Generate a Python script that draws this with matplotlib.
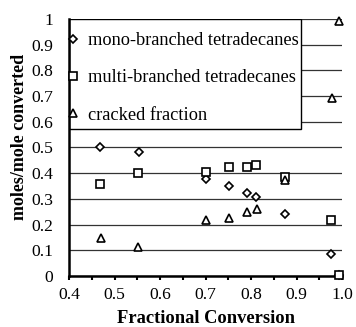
import matplotlib.pyplot as plt
from matplotlib.patches import Rectangle
from matplotlib.ticker import MultipleLocator, FixedLocator, FuncFormatter

plt.rcParams['font.family'] = ['Liberation Serif', 'DejaVu Serif']

# Fractional conversion for each run
conv_mono = [0.468, 0.553, 0.701, 0.751, 0.792, 0.811, 0.875, 0.976, 0.994]
mono = [0.502, 0.483, 0.377, 0.350, 0.322, 0.306, 0.240, 0.087, 0.004]

conv_multi = [0.468, 0.552, 0.701, 0.751, 0.790, 0.811, 0.875, 0.976, 0.994]
multi = [0.358, 0.402, 0.406, 0.423, 0.425, 0.432, 0.384, 0.218, 0.004]

conv_crack = [0.470, 0.552, 0.701, 0.751, 0.792, 0.812, 0.875, 0.977, 0.994]
cracked = [0.147, 0.114, 0.218, 0.227, 0.250, 0.260, 0.373, 0.691, 0.992]

fig = plt.figure(figsize=(3.56, 3.27), dpi=100)
ax = fig.add_axes([0.194, 0.156, 0.767, 0.786])

mk = dict(linestyle='none', markerfacecolor='white', markeredgecolor='black',
          markeredgewidth=1.2, markersize=5.5, clip_on=False, zorder=3)
ax.plot(conv_mono, mono, marker='D', label='mono-branched tetradecanes',
        **{**mk, 'markersize': 4.5})
ax.plot(conv_multi, multi, marker='s', label='multi-branched tetradecanes', **mk)
ax.plot(conv_crack, cracked, marker='^', label='cracked fraction', **mk)

ax.set_xlim(0.4, 1.0)
ax.set_ylim(0, 1)
ax.xaxis.set_major_locator(FixedLocator([0.4, 0.5, 0.6, 0.7, 0.8, 0.9, 1.0]))
ax.xaxis.set_minor_locator(MultipleLocator(0.05))
ax.xaxis.set_major_formatter(FuncFormatter(lambda v, p: f'{v:.1f}'))
ax.yaxis.set_major_locator(MultipleLocator(0.1))
ax.yaxis.set_major_formatter(FuncFormatter(lambda v, p: '0' if v < 1e-9 else ('1' if v > 0.999 else f'{v:.1f}')))

ax.tick_params(axis='x', which='both', direction='out', length=3, width=1.5,
               labelsize=12.6, pad=5)
ax.tick_params(axis='y', length=0, labelsize=12.6, pad=11.5)

ax.grid(axis='y', color='#333333', linewidth=0.9, zorder=0)
ax.set_axisbelow(True)
for side in ['top', 'right']:
    ax.spines[side].set_visible(False)
ax.spines['left'].set_linewidth(1.8)
ax.spines['bottom'].set_linewidth(1.8)

ax.set_xlabel('Fractional Conversion', fontsize=13.3, fontweight='bold', labelpad=5)
ax.set_ylabel('moles/mole converted', fontsize=13, fontweight='bold')
ax.yaxis.set_label_coords(-0.152, 0.54)

# legend box drawn separately so the entries can sit close to its left edge
box = Rectangle((0, 0.572), 0.85, 0.428, transform=ax.transAxes,
                facecolor='white', edgecolor='black', linewidth=1.0, zorder=2.5)
ax.add_patch(box)
leg = ax.legend(loc='upper left', bbox_to_anchor=(0.0, 0.948), fontsize=13.2,
                frameon=False, borderaxespad=0, borderpad=0, handlelength=0.4,
                handletextpad=0.62, labelspacing=1.1, markerscale=0.95)
leg.set_zorder(4)

fig.savefig('out.png', dpi=100)
